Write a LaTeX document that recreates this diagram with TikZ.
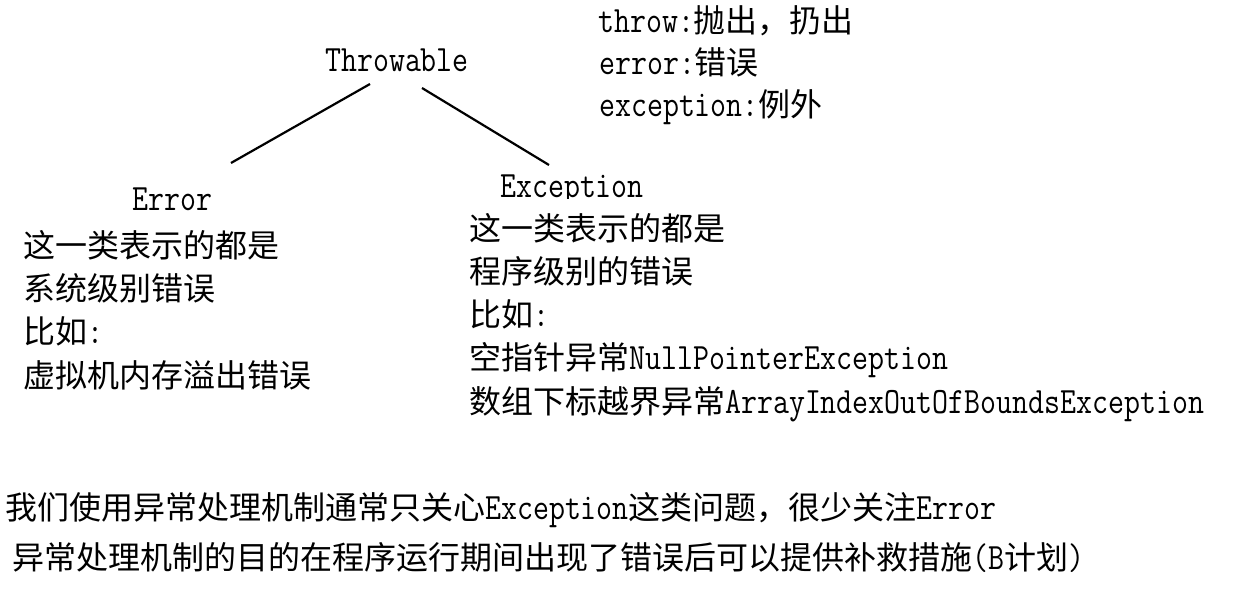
\documentclass[tikz,border=0pt]{standalone}
\usepackage{fontspec}
\setmonofont{Latin Modern Mono}[FakeStretch=0.835,Scale=1.16]
\newfontfamily\cjk{Noto Sans CJK SC}
\begin{document}
\begin{tikzpicture}[x=1pt,y=-1pt,
  txt/.style={anchor=base west,inner sep=0pt,font=\fontsize{32}{43}\selectfont\ttfamily},
  link/.style={line width=2.2pt}]
\useasboundingbox[fill=white] (0,0) rectangle (1239,593);
% hierarchy
\node[txt] (thr) at (325,72) {Throwable};
\node[txt] (err) at (132,211) {Error};
\begin{scope}
\clip (480,150) rectangle (700,199);
\node[txt] (exc) at (500,198) {Exception};
\end{scope}
\coordinate (t1) at (370,84);
\coordinate (e1) at (231,163);
\coordinate (t2) at (422,88);
\coordinate (x1) at (549,165);
\draw[link] (t1) -- (e1);
\draw[link] (t2) -- (x1);
% glossary
\node[txt] (g1) at (598,33) {throw:{\cjk 抛出，扔出}};
\node[txt] (g2) at (599,75) {error:{\cjk 错误}};
\node[txt] (g3) at (599,117) {exception:{\cjk 例外}};
% Error description
\node[txt] (ed1) at (23,258) {\cjk 这一类表示的都是};
\node[txt] (ed2) at (23,301) {\cjk 系统级别错误};
\node[txt] (ed3) at (23,344) {{\cjk 比如}:};
\node[txt] (ed4) at (23,387) {\cjk 虚拟机内存溢出错误};
% Exception description
\node[txt] (xd1) at (469,241) {\cjk 这一类表示的都是};
\node[txt] (xd2) at (469,284) {\cjk 程序级别的错误};
\node[txt] (xd3) at (469,327) {{\cjk 比如}:};
\node[txt] (xd4) at (469,370) {{\cjk 空指针异常}NullPointerException};
\node[txt] (xd5) at (469,413) {{\cjk 数组下标越界异常}ArrayIndexOutOfBoundsException};
% bottom notes
\node[txt] (n1) at (5,519) {{\cjk 我们使用异常处理机制通常只关心}Exception{\cjk 这类问题，很少关注}Error};
\node[txt] (n2) at (12,569) {{\cjk 异常处理机制的目的在程序运行期间出现了错误后可以提供补救措施}(B{\cjk 计划})};
\end{tikzpicture}
\end{document}
